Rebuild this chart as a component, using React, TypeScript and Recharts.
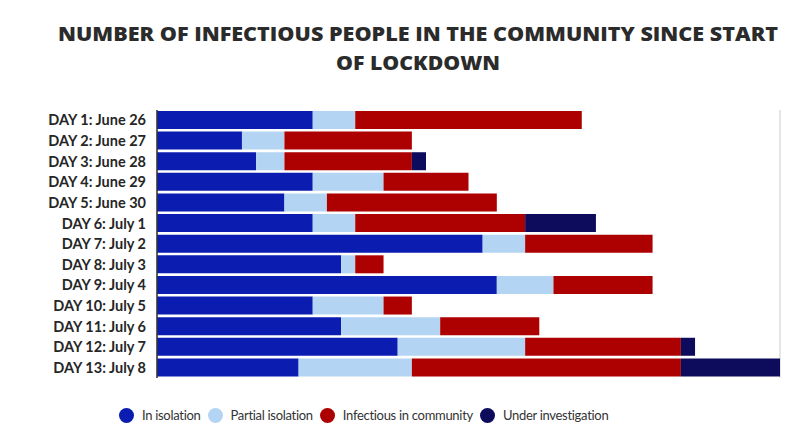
import React from 'react';
import { BarChart, Bar, XAxis, YAxis, CartesianGrid } from 'recharts';

const days = [
  'DAY 1: June 26',
  'DAY 2: June 27',
  'DAY 3: June 28',
  'DAY 4: June 29',
  'DAY 5: June 30',
  'DAY 6: July 1',
  'DAY 7: July 2',
  'DAY 8: July 3',
  'DAY 9: July 4',
  'DAY 10: July 5',
  'DAY 11: July 6',
  'DAY 12: July 7',
  'DAY 13: July 8',
];
const inIsolation = [11, 6, 7, 11, 9, 11, 23, 13, 24, 11, 13, 17, 10];
const partialIsolation = [3, 3, 2, 5, 3, 3, 3, 1, 4, 5, 7, 9, 8];
const infectiousCommunity = [16, 9, 9, 6, 12, 12, 9, 2, 7, 2, 7, 11, 19];
const underInvestigation = [0, 0, 1, 0, 0, 5, 0, 0, 0, 0, 0, 1, 7];
const xTicks = [0, 5, 10, 15, 20, 25, 30, 35, 40];

const seriesNames = ['In isolation', 'Partial isolation', 'Infectious in community', 'Under investigation'];
const seriesKeys = ['iso', 'partial', 'comm', 'inv'];
const seriesColors = ['#0b1db0', '#b3d5f3', '#ad0000', '#0c0b5c'];

const data = days.map((d, i) => ({
  day: d,
  iso: inIsolation[i],
  partial: partialIsolation[i],
  comm: infectiousCommunity[i],
  inv: underInvestigation[i],
}));

const titleStyle = { fontFamily: 'Open Sans', fontWeight: 800, fontSize: 20, fill: '#2b2b2b' };

export default function App() {
  return (
    <div style={{ position: 'absolute', left: 0, top: 0, width: 800, height: 446, background: '#fff' }}>
      <svg width={800} height={80} style={{ position: 'absolute', left: 0, top: 0 }}>
        <text x={418} y={41} textAnchor="middle" textLength={720} lengthAdjust="spacingAndGlyphs" style={titleStyle}>
          NUMBER OF INFECTIOUS PEOPLE IN THE COMMUNITY SINCE START
        </text>
        <text x={418} y={70} textAnchor="middle" textLength={164} lengthAdjust="spacingAndGlyphs" style={titleStyle}>
          OF LOCKDOWN
        </text>
      </svg>
      <div style={{ position: 'absolute', left: 0, top: 0 }}>
        <BarChart
          width={800}
          height={446}
          data={data}
          layout="vertical"
          margin={{ top: 110, right: 20, bottom: 68, left: 0 }}
        >
          <CartesianGrid horizontal={false} stroke="#dcdcdc" strokeWidth={1.5} />
          <XAxis
            type="number"
            domain={[0, 44]}
            ticks={xTicks}
            axisLine={false}
            tickLine={false}
            tick={false}
            height={0}
          />
          <YAxis
            type="category"
            dataKey="day"
            width={157}
            axisLine={{ stroke: '#333', strokeWidth: 1.5 }}
            tickLine={false}
            tickSize={0}
            tickMargin={11}
            interval={0}
            tick={{ fill: '#262626', fontSize: 14.5, fontWeight: 700, fontFamily: 'Lato' }}
          />
          {seriesKeys.map((k, i) => (
            <Bar key={k} dataKey={k} name={seriesNames[i]} stackId="a" fill={seriesColors[i]} barSize={18} isAnimationActive={false} />
          ))}
        </BarChart>
      </div>
      <div
        style={{
          position: 'absolute',
          left: 119,
          top: 407,
          display: 'flex',
          alignItems: 'center',
          fontFamily: 'Lato',
          fontSize: 13,
          letterSpacing: -0.3,
          color: '#333',
        }}
      >
        {seriesNames.map((n, i) => (
          <div key={n} style={{ display: 'flex', alignItems: 'center', marginRight: 7 }}>
            <span
              style={{
                display: 'inline-block',
                width: 15,
                height: 15,
                borderRadius: '50%',
                background: seriesColors[i],
                marginRight: 8,
              }}
            />
            <span>{n}</span>
          </div>
        ))}
      </div>
    </div>
  );
}
